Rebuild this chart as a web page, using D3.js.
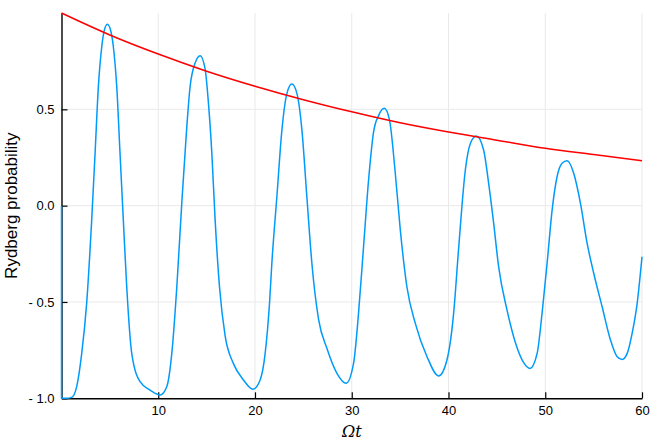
<!DOCTYPE html>
<html>
<head>
<meta charset="utf-8">
<script src="https://cdn.jsdelivr.net/npm/d3@7"></script>
<style>
  body { margin: 0; background: #fff; }
  svg { display: block; font-family: "Liberation Sans", Arial, sans-serif; }
</style>
</head>
<body>
<div id="chart"></div>
<script>
const tBlue = [0, 0.001, 0.5, 1.05, 1.57, 2.09, 2.6, 3.12, 3.47, 3.81, 4.16, 4.4, 4.74, 5.1, 5.36, 5.71, 6.05, 6.39, 6.74, 7.26, 8.12, 9.15, 10.19,
  10.88, 11.4, 11.92, 12.43, 12.88, 13.29, 13.81, 14.33, 14.84, 15.19, 15.54, 15.88, 16.33, 16.91, 17.77, 18.81, 19.78,
  20.53, 21.05, 21.5, 21.74, 22.26, 22.78, 23.3, 23.81, 24.33, 24.85, 25.36, 25.88, 26.57, 27.43, 28.47, 29.43,
  30.19, 30.7, 31.22, 31.74, 32.25, 32.8, 33.36, 33.9, 34.5, 35.02, 35.7, 36.57, 37.78, 38.98,
  39.84, 40.53, 41.05, 41.74, 42.26, 42.88, 43.63, 44.15, 44.67, 45.18, 46.05, 46.91, 47.77, 48.42,
  49.16, 49.67, 50.19, 50.71, 51.22, 51.74, 52.26, 52.94, 53.64, 54.33, 55.01, 55.88, 56.74, 57.43, 57.95,
  58.47, 58.98, 59.5, 60];
const pBlue = [0, -1, -1, -0.995, -0.939, -0.767, -0.507, -0.075, 0.271, 0.617, 0.825, 0.905, 0.941, 0.905, 0.825, 0.617, 0.271, -0.075, -0.421, -0.767, -0.914, -0.957, -0.983,
  -0.94, -0.767, -0.421, 0.012, 0.358, 0.617, 0.74, 0.778, 0.71, 0.531, 0.271, -0.075, -0.421, -0.675, -0.82, -0.905, -0.953,
  -0.905, -0.767, -0.507, -0.3, 0.046, 0.392, 0.583, 0.631, 0.583, 0.392, 0.046, -0.3, -0.59, -0.74, -0.87, -0.922,
  -0.818, -0.559, -0.213, 0.133, 0.38, 0.47, 0.505, 0.445, 0.168, -0.127, -0.421, -0.611, -0.784, -0.884,
  -0.801, -0.559, -0.22, 0.185, 0.323, 0.361, 0.289, 0.116, -0.092, -0.317, -0.542, -0.71, -0.815, -0.845,
  -0.767, -0.559, -0.3, -0.023, 0.15, 0.22, 0.233, 0.168, 0.012, -0.196, -0.351, -0.525, -0.697, -0.784, -0.798,
  -0.767, -0.663, -0.507, -0.265];

const tRed = [0, 5, 10, 15, 20, 25, 30, 35, 40, 45, 50, 55, 60];
const pRed = [1.0, 0.886, 0.787, 0.698, 0.62, 0.55, 0.487, 0.43, 0.382, 0.34, 0.298, 0.265, 0.233];

const xTicks = [10, 20, 30, 40, 50, 60];
const yTicks = [-1, -0.5, 0, 0.5];
const yTickLabels = ["- 1.0", "- 0.5", "0.0", "0.5"];

const W = 664, H = 443;
const margin = { left: 61.5, right: 22, top: 13, bottom: 44.7 };

const svg = d3.select("#chart").append("svg")
  .attr("width", W).attr("height", H);

const x = d3.scaleLinear().domain([0, 60]).range([margin.left, W - margin.right]);
const y = d3.scaleLinear().domain([-1, 1]).range([H - margin.bottom, margin.top]);

// grid
const gridColor = "#e9e9e9";
svg.append("g").selectAll("line").data(xTicks).join("line")
  .attr("x1", d => x(d)).attr("x2", d => x(d))
  .attr("y1", y(-1)).attr("y2", y(1))
  .attr("stroke", gridColor).attr("stroke-width", 1);
svg.append("g").selectAll("line").data(yTicks.filter(d => d > -1)).join("line")
  .attr("x1", x(0)).attr("x2", x(60))
  .attr("y1", d => y(d)).attr("y2", d => y(d))
  .attr("stroke", gridColor).attr("stroke-width", 1);

// axes (Plots.jl-ish: ticks point inward)
const xAxis = svg.append("g")
  .attr("transform", `translate(0,${y(-1)})`)
  .call(d3.axisBottom(x).tickValues(xTicks).tickSizeInner(-6).tickSizeOuter(0).tickPadding(10));
const yAxis = svg.append("g")
  .attr("transform", `translate(${x(0)},0)`)
  .call(d3.axisLeft(y).tickValues(yTicks).tickFormat((d, i) => yTickLabels[i]).tickSizeInner(-6).tickSizeOuter(0).tickPadding(12));

[xAxis, yAxis].forEach(a => {
  a.select(".domain").attr("stroke", "#000").attr("stroke-width", 1.4);
  a.selectAll(".tick line").attr("stroke", "#000").attr("stroke-width", 1.2);
  a.selectAll(".tick text").attr("fill", "#000")
    .style("font-size", "13px").style("font-family", "Liberation Sans, Arial, sans-serif");
});
xAxis.selectAll(".tick text").attr("dy", "0.71em").attr("y", 7);
yAxis.selectAll(".tick text").attr("x", -7);

// series
const line = d3.line().x(d => x(d[0])).y(d => y(d[1])).curve(d3.curveMonotoneX);

svg.append("path")
  .datum(tBlue.map((t, i) => [t, pBlue[i]]))
  .attr("d", line)
  .attr("fill", "none")
  .attr("stroke", "#009af9")
  .attr("stroke-width", 1.5);

svg.append("path")
  .datum(tRed.map((t, i) => [t, pRed[i]]))
  .attr("d", line)
  .attr("fill", "none")
  .attr("stroke", "#ff0000")
  .attr("stroke-width", 1.5);

// labels
svg.append("text")
  .attr("transform", `translate(17,${(y(-1) + y(1)) / 2}) rotate(-90)`)
  .attr("text-anchor", "middle")
  .style("font-size", "17px")
  .text("Rydberg probability");

svg.append("text")
  .attr("x", (x(0) + x(60)) / 2)
  .attr("y", 437)
  .attr("text-anchor", "middle")
  .style("font-family", "DejaVu Serif, Liberation Serif, serif")
  .style("font-style", "italic")
  .style("font-size", "16px")
  .text("Ωt");
</script>
</body>
</html>
